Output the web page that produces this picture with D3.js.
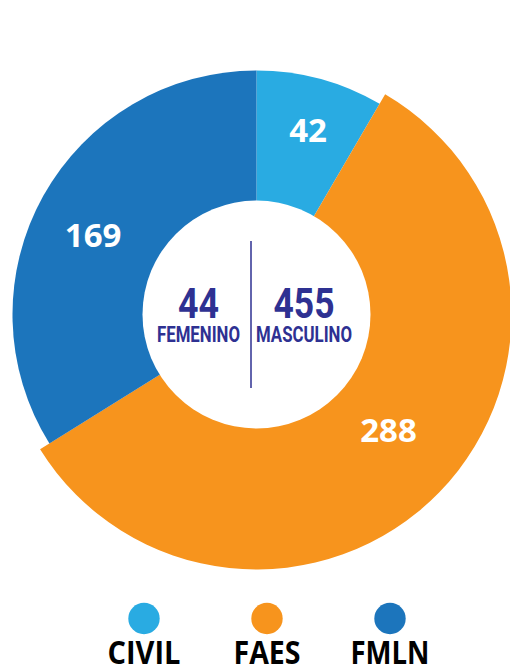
<!DOCTYPE html>
<html>
<head>
<meta charset="utf-8">
<script src="https://cdn.jsdelivr.net/npm/d3@7"></script>
<style>
  body { margin: 0; background: #fff; }
  svg { display: block; }
</style>
</head>
<body>
<script>
// datos
var categories = ["CIVIL", "FAES", "FMLN"];
var values = [42, 288, 169];
var colors = ["#29abe2", "#f7941d", "#1c75bc"];
var genderLabels = ["FEMENINO", "MASCULINO"];
var genderValues = [44, 455];

var width = 510;
var height = 665;
var cx = 256.5, cy = 314.5;
var radius = 244;
var bigRadius = 255;   // FAES sobresale
var holeRadius = 114;

var data = categories.map(function(c, i){ return {name: c, value: values[i]}; });

var color = d3.scaleOrdinal()
    .domain(categories)
    .range(colors);

var svg = d3.select("body")
    .append("svg")
    .attr("width", width)
    .attr("height", height);

var canvas = svg.append("g")
    .attr("transform", "translate(" + cx + "," + cy + ")");

var pie = d3.pie()
    .sort(null)
    .value(function(d){ return d.value; });

var arcs = pie(data);

var arc = d3.arc()
    .innerRadius(0)
    .outerRadius(function(d){ return d.data.name === "FAES" ? bigRadius : radius; });

var labelArc = d3.arc()
    .innerRadius(184)
    .outerRadius(184);

// pequeños ajustes a mano de las etiquetas
var labelNudge = {CIVIL: [3.5, -7], FAES: [0, -12.5], FMLN: [-2.5, 10]};

canvas.selectAll("path.slice")
    .data(arcs)
    .enter()
        .append("path")
        .attr("class", "slice")
        .attr("d", arc)
        .attr("fill", function(d){ return color(d.data.name); });

canvas.append("circle")
    .attr("r", holeRadius)
    .attr("fill", "#fff");

canvas.selectAll("text.val")
    .data(arcs)
    .enter()
        .append("text")
        .attr("class", "val")
        .attr("transform", function(d){
            var c = labelArc.centroid(d);
            var n = labelNudge[d.data.name];
            return "translate(" + (c[0] + n[0]) + "," + (c[1] + n[1] + 12) + ")";
        })
        .attr("text-anchor", "middle")
        .attr("font-family", "'Open Sans', sans-serif")
        .attr("font-weight", "bold")
        .attr("font-size", 33)
        .attr("fill", "#fff")
        .text(function(d){ return d.data.value; });

// centro: femenino | masculino
var navy = "#2e3192";
var narrow = "Roboto, sans-serif";
var centerX = [198.5 - cx, 304 - cx];
var numW = [41, 61];
var labelW = [83, 96];

canvas.append("line")
    .attr("x1", 251 - cx).attr("x2", 251 - cx)
    .attr("y1", 241 - cy).attr("y2", 388 - cy)
    .attr("stroke", navy)
    .attr("stroke-width", 1.5);

var g = canvas.selectAll("g.gender")
    .data(genderLabels)
    .enter()
        .append("g")
        .attr("class", "gender")
        .attr("transform", function(d, i){ return "translate(" + centerX[i] + ",0)"; });

g.append("text")
    .attr("y", 318 - cy)
    .attr("text-anchor", "middle")
    .attr("font-family", narrow)
    .attr("font-weight", "bold")
    .attr("font-size", 43)
    .attr("fill", navy)
    .attr("textLength", function(d, i){ return numW[i]; })
    .attr("lengthAdjust", "spacingAndGlyphs")
    .text(function(d, i){ return genderValues[i]; });

g.append("text")
    .attr("y", 341.5 - cy)
    .attr("text-anchor", "middle")
    .attr("font-family", narrow)
    .attr("font-weight", "bold")
    .attr("font-size", 22)
    .attr("fill", navy)
    .attr("textLength", function(d, i){ return labelW[i]; })
    .attr("lengthAdjust", "spacingAndGlyphs")
    .text(function(d){ return d; });

// leyenda
var legendX = d3.scalePoint()
    .domain(categories)
    .range([144, 390]);

var legend = svg.selectAll("g.legend")
    .data(categories)
    .enter()
        .append("g")
        .attr("class", "legend")
        .attr("transform", function(d){ return "translate(" + legendX(d) + ",0)"; });

legend.append("circle")
    .attr("cy", 618.5)
    .attr("r", 15.7)
    .attr("fill", function(d){ return color(d); });

var legendW = {CIVIL: 73, FAES: 67, FMLN: 79};
legend.append("text")
    .attr("y", 663.5)
    .attr("text-anchor", "middle")
    .attr("font-family", "'Open Sans', sans-serif")
    .attr("font-weight", "bold")
    .attr("font-size", 31.5)
    .attr("fill", "#000")
    .attr("textLength", function(d){ return legendW[d]; })
    .attr("lengthAdjust", "spacingAndGlyphs")
    .text(function(d){ return d; });
</script>
</body>
</html>
